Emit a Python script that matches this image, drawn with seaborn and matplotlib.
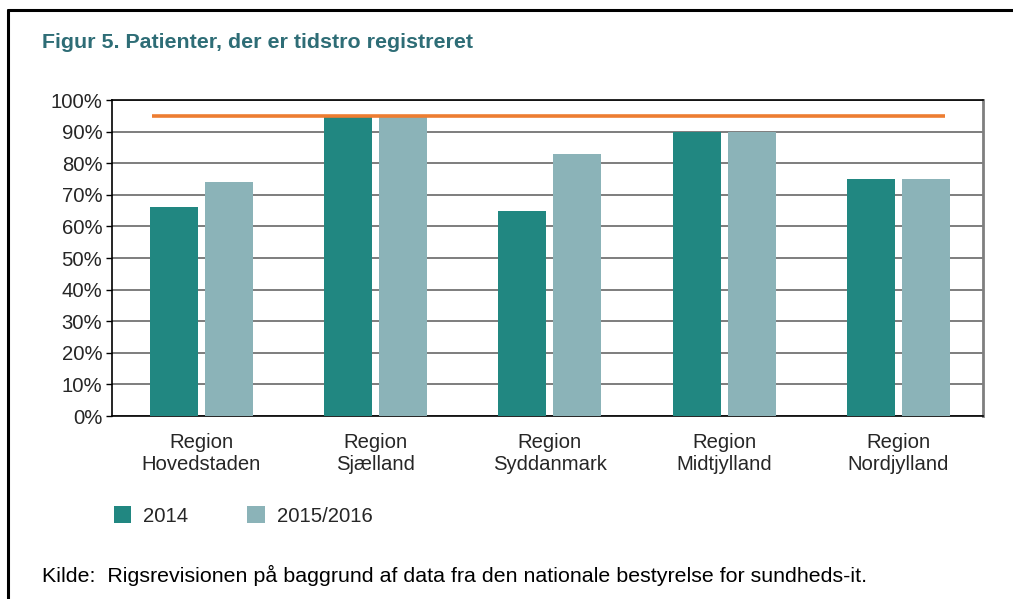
import matplotlib
matplotlib.use("Agg")
import matplotlib.pyplot as plt
from matplotlib.lines import Line2D
from matplotlib.ticker import FuncFormatter, MultipleLocator
import pandas as pd
import seaborn as sns

regions = [
    "Region\nHovedstaden",
    "Region\nSjælland",
    "Region\nSyddanmark",
    "Region\nMidtjylland",
    "Region\nNordjylland",
]
share_2014 = [66, 95, 65, 90, 75]
share_2015_16 = [74, 95, 83, 90, 75]
target = 95
periods = ["2014", "2015/2016"]

df = pd.DataFrame({
    "region": regions * 2,
    "period": [periods[0]] * len(regions) + [periods[1]] * len(regions),
    "share": share_2014 + share_2015_16,
})

sns.set_style("white")
plt.rcParams["font.family"] = ["Liberation Sans", "DejaVu Sans"]

W, H = 1013, 599
fig = plt.figure(figsize=(W / 100, H / 100), dpi=100)
ax = fig.add_axes([112 / W, 1 - 416 / H, (983 - 112) / W, (416 - 100) / H])

sns.barplot(
    data=df, x="region", y="share", hue="period",
    palette=["#218781", "#8BB3B8"], width=0.632, gap=0.127,
    saturation=1, edgecolor="none", ax=ax, zorder=3,
)

ax.hlines(target, -0.286, 4.268, color="#ED7D31", lw=2.6, zorder=4)

ax.set_ylim(0, 100)
ax.set_xlim(-0.514, 4.486)
ax.yaxis.set_major_locator(MultipleLocator(10))
ax.yaxis.set_major_formatter(FuncFormatter(lambda v, p: f"{v:.0f}%"))
ax.grid(axis="y", color="#5a5a5a", lw=1.1, zorder=0)
ax.set_xlabel("")
ax.set_ylabel("")
ax.tick_params(axis="y", length=4, width=1, color="black", pad=3,
               labelsize=14.6, left=True)
ax.tick_params(axis="x", length=0, pad=12, labelsize=14.6)
for lbl in ax.get_xticklabels():
    lbl.set_linespacing(1.2)

for side in ["left", "top", "bottom"]:
    ax.spines[side].set_color("black")
    ax.spines[side].set_linewidth(1.2)
ax.spines["right"].set_color("#7f7f7f")
ax.spines["right"].set_linewidth(2)

ax.legend(
    loc="center left", bbox_to_anchor=(114 / W, 1 - 516 / H),
    bbox_transform=fig.transFigure, ncol=2, frameon=False,
    fontsize=14.6, handlelength=0.85, handleheight=0.85,
    handletextpad=0.6, columnspacing=2.9, borderpad=0, borderaxespad=0,
)

fig.text(42 / W, 1 - 43 / H, "Figur 5. Patienter, der er tidstro registreret",
         fontsize=15.4, fontweight="bold", color="#2E6D76",
         ha="left", va="center")
fig.text(42 / W, 1 - 575 / H,
         "Kilde:  Rigsrevisionen på baggrund af data fra den nationale bestyrelse for sundheds-it.",
         fontsize=15.4, color="black", ha="left", va="center")

# outer frame: top and left only
fig.add_artist(Line2D([7.5 / W, 1], [1 - 10 / H, 1 - 10 / H],
                      transform=fig.transFigure, color="black", lw=2.2))
fig.add_artist(Line2D([7.5 / W, 7.5 / W], [0, 1 - 10 / H],
                      transform=fig.transFigure, color="black", lw=2.2))

fig.savefig("out.png", dpi=100, facecolor="white")
